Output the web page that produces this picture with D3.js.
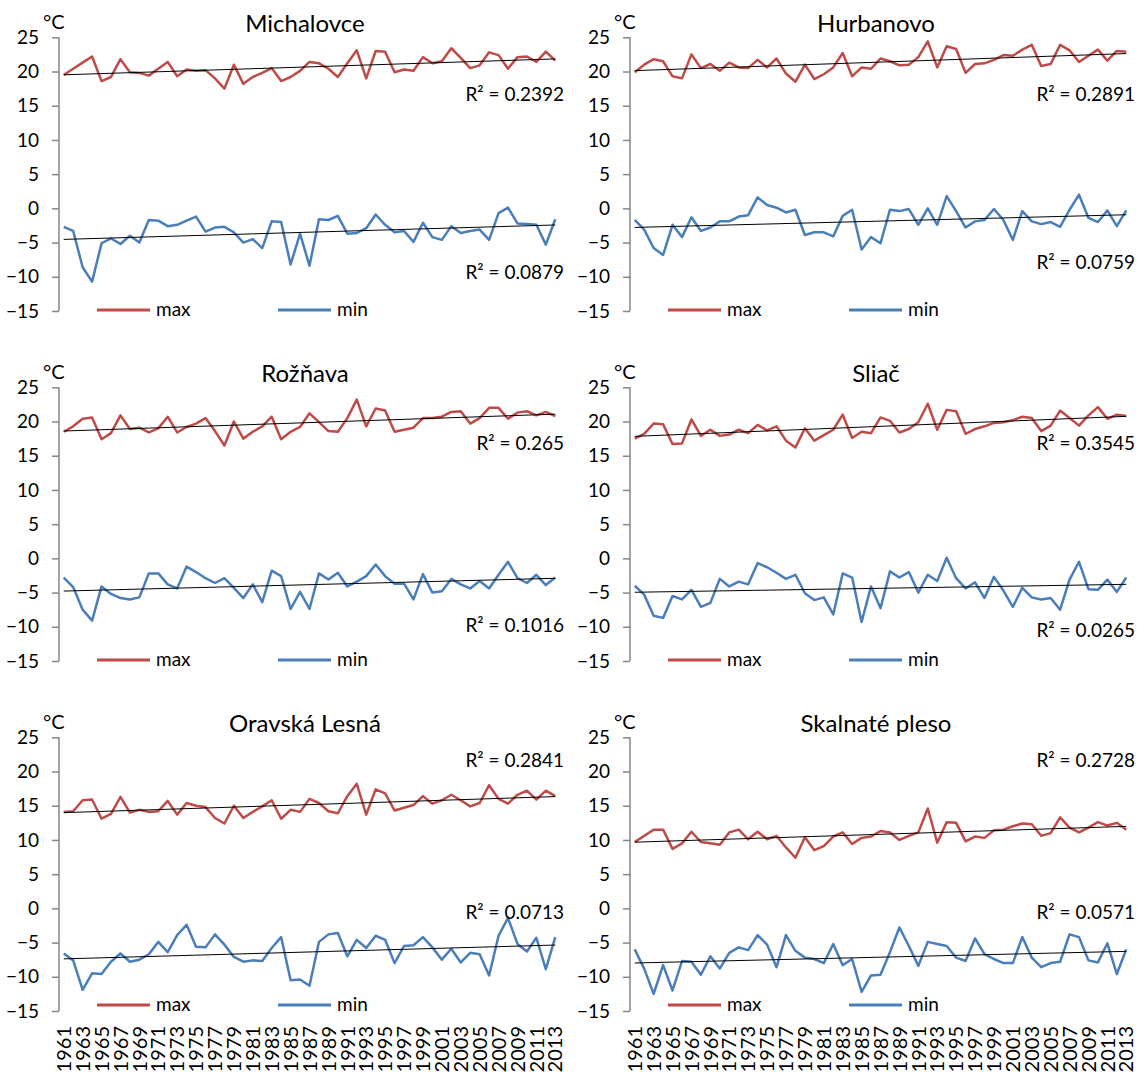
<!DOCTYPE html>
<html>
<head>
<meta charset="utf-8">
<script src="https://cdn.jsdelivr.net/npm/d3@7"></script>
<style>
  body { margin: 0; background: #fff; }
  svg { display: block; font-family: Lato, "Open Sans", sans-serif; }
</style>
</head>
<body>
<svg id="chart" width="1144" height="1079"></svg>
<script>
// categories
const years = [1961, 1962, 1963, 1964, 1965, 1966, 1967, 1968, 1969, 1970,
  1971, 1972, 1973, 1974, 1975, 1976, 1977, 1978, 1979, 1980,
  1981, 1982, 1983, 1984, 1985, 1986, 1987, 1988, 1989, 1990,
  1991, 1992, 1993, 1994, 1995, 1996, 1997, 1998, 1999, 2000,
  2001, 2002, 2003, 2004, 2005, 2006, 2007, 2008, 2009, 2010,
  2011, 2012, 2013];

const stations = ["Michalovce", "Hurbanovo", "Rožňava", "Sliač", "Oravská Lesná", "Skalnaté pleso"];
const seriesNames = ["max", "min"];
const yTicks = [25, 20, 15, 10, 5, 0, -5, -10, -15];

// R² labels as printed on the chart
const r2Max = ["0.2392", "0.2891", "0.265", "0.3545", "0.2841", "0.2728"];
const r2Min = ["0.0879", "0.0759", "0.1016", "0.0265", "0.0713", "0.0571"];

// series values (°C)
const michalovceMax = [19.5, 20.4, 21.3, 22.2, 18.6, 19.2, 21.8, 19.9, 19.8, 19.4,
  20.4, 21.4, 19.3, 20.3, 20.1, 20.2, 19.0, 17.5, 21.0, 18.2,
  19.2, 19.8, 20.5, 18.6, 19.2, 20.1, 21.4, 21.2, 20.4, 19.2,
  21.2, 23.1, 19.0, 23.0, 22.9, 19.9, 20.3, 20.1, 22.1, 21.2,
  21.5, 23.4, 22.0, 20.5, 20.9, 22.8, 22.4, 20.4, 22.1, 22.2,
  21.4, 22.9, 21.6];
const michalovceMin = [-2.7, -3.3, -8.6, -10.7, -5.1, -4.4, -5.2, -4.0, -5.0, -1.7,
  -1.8, -2.6, -2.4, -1.8, -1.2, -3.4, -2.8, -2.7, -3.5, -5.0,
  -4.5, -5.8, -1.9, -2.0, -8.2, -3.7, -8.4, -1.6, -1.7, -1.1,
  -3.7, -3.6, -2.9, -0.9, -2.4, -3.5, -3.3, -4.9, -2.1, -4.2,
  -4.6, -2.6, -3.6, -3.3, -3.1, -4.6, -0.7, 0.1, -2.2, -2.3,
  -2.4, -5.3, -1.6];

const hurbanovoMax = [19.9, 21.0, 21.8, 21.5, 19.3, 19.0, 22.5, 20.5, 21.1, 20.1,
  21.3, 20.6, 20.5, 21.7, 20.6, 21.9, 19.7, 18.5, 21.0, 18.9,
  19.6, 20.6, 22.7, 19.3, 20.6, 20.4, 21.9, 21.5, 20.9, 21.0,
  22.1, 24.4, 20.6, 23.7, 23.3, 19.8, 21.1, 21.2, 21.7, 22.4,
  22.3, 23.2, 23.9, 20.8, 21.1, 23.9, 23.1, 21.4, 22.3, 23.2,
  21.6, 23.0, 22.9];
const hurbanovoMin = [-1.7, -3.1, -5.8, -6.8, -2.4, -4.2, -1.3, -3.3, -2.8, -1.9,
  -1.9, -1.2, -1.0, 1.6, 0.5, 0.1, -0.6, -0.2, -3.9, -3.5,
  -3.5, -4.1, -1.1, -0.2, -6.0, -4.2, -5.1, -0.2, -0.4, -0.1,
  -2.4, 0.0, -2.4, 1.8, -0.4, -2.8, -1.9, -1.7, -0.1, -1.7,
  -4.6, -0.4, -1.9, -2.3, -2.0, -2.7, -0.2, 2.0, -1.4, -2.0,
  -0.3, -2.6, -0.3];

const roznavaMax = [18.5, 19.3, 20.4, 20.6, 17.4, 18.3, 20.9, 18.9, 19.1, 18.4,
  19.0, 20.7, 18.4, 19.2, 19.7, 20.5, 18.6, 16.5, 20.0, 17.5,
  18.5, 19.3, 20.7, 17.4, 18.5, 19.2, 21.2, 19.9, 18.6, 18.5,
  20.5, 23.2, 19.3, 21.9, 21.6, 18.5, 18.8, 19.1, 20.5, 20.5,
  20.7, 21.4, 21.5, 19.7, 20.5, 22.0, 22.0, 20.4, 21.3, 21.5,
  20.9, 21.4, 20.8];
const roznavaMin = [-2.8, -4.2, -7.5, -9.1, -4.1, -5.2, -5.8, -6.0, -5.7, -2.2,
  -2.2, -3.8, -4.4, -1.2, -2.0, -2.9, -3.6, -2.9, -4.3, -5.8,
  -3.8, -6.4, -1.8, -2.6, -7.4, -4.9, -7.4, -2.2, -3.1, -2.1,
  -4.1, -3.4, -2.6, -0.9, -2.6, -3.7, -3.7, -6.0, -2.3, -5.0,
  -4.8, -3.0, -3.8, -4.4, -3.3, -4.4, -2.4, -0.5, -2.9, -3.6,
  -2.4, -3.9, -2.8];

const sliacMax = [17.5, 18.2, 19.7, 19.6, 16.7, 16.8, 20.3, 17.9, 18.8, 17.9,
  18.1, 18.8, 18.3, 19.5, 18.7, 19.3, 17.2, 16.2, 19.0, 17.2,
  18.0, 18.8, 21.0, 17.6, 18.5, 18.3, 20.6, 20.1, 18.4, 18.9,
  19.9, 22.6, 18.8, 21.7, 21.5, 18.2, 18.9, 19.3, 19.8, 19.9,
  20.2, 20.7, 20.5, 18.6, 19.4, 21.6, 20.5, 19.4, 20.9, 22.1,
  20.4, 21.0, 20.8];
const sliacMin = [-4.0, -5.3, -8.4, -8.7, -5.5, -6.0, -4.6, -7.1, -6.5, -3.0,
  -4.1, -3.4, -3.8, -0.7, -1.3, -2.1, -3.0, -2.4, -5.1, -6.1,
  -5.7, -8.2, -2.2, -2.8, -9.3, -4.1, -7.3, -1.9, -2.8, -2.0,
  -5.0, -2.4, -3.3, 0.1, -2.9, -4.4, -3.5, -5.8, -2.7, -4.7,
  -7.1, -4.3, -5.7, -6.0, -5.8, -7.5, -3.1, -0.5, -4.5, -4.6,
  -3.1, -4.9, -2.8];

const oravskaMax = [14.1, 14.2, 15.8, 15.9, 13.1, 13.8, 16.3, 14.0, 14.4, 14.1,
  14.2, 15.7, 13.7, 15.4, 15.0, 14.8, 13.2, 12.4, 15.0, 13.2,
  14.1, 14.9, 15.8, 13.1, 14.4, 14.1, 16.0, 15.4, 14.2, 13.9,
  16.4, 18.2, 13.7, 17.4, 16.8, 14.3, 14.7, 15.1, 16.4, 15.3,
  15.8, 16.6, 15.8, 14.9, 15.4, 18.0, 16.0, 15.3, 16.6, 17.2,
  15.9, 17.2, 16.4];
const oravskaMin = [-6.6, -7.6, -11.9, -9.5, -9.6, -7.8, -6.6, -7.8, -7.5, -6.7,
  -4.9, -6.4, -3.9, -2.4, -5.6, -5.7, -3.8, -5.3, -7.1, -7.8,
  -7.6, -7.7, -5.8, -4.2, -10.5, -10.4, -11.3, -4.9, -3.8, -3.6,
  -7.0, -4.6, -5.8, -4.0, -4.6, -8.0, -5.5, -5.4, -4.2, -5.7,
  -7.5, -5.9, -7.9, -6.5, -6.7, -9.8, -4.0, -1.4, -5.2, -6.3,
  -4.3, -8.9, -4.2];

const skalnateMax = [9.7, 10.6, 11.5, 11.5, 8.7, 9.5, 11.2, 9.7, 9.5, 9.3,
  11.1, 11.5, 10.1, 11.2, 10.1, 10.6, 8.9, 7.4, 10.4, 8.5,
  9.1, 10.5, 11.1, 9.4, 10.3, 10.5, 11.3, 11.1, 10.0, 10.6,
  11.1, 14.6, 9.6, 12.6, 12.5, 9.8, 10.5, 10.3, 11.4, 11.5,
  12.0, 12.4, 12.3, 10.6, 11.0, 13.3, 11.8, 11.1, 11.8, 12.6,
  12.1, 12.5, 11.5];
const skalnateMin = [-6.0, -8.8, -12.5, -8.3, -12.0, -7.7, -7.8, -9.7, -7.0, -8.8,
  -6.5, -5.7, -6.1, -3.9, -5.3, -8.6, -3.9, -6.2, -7.2, -7.4,
  -8.0, -5.2, -8.3, -7.4, -12.2, -9.8, -9.7, -6.4, -2.8, -5.5,
  -8.4, -4.9, -5.2, -5.5, -7.2, -7.7, -4.4, -6.7, -7.4, -8.0,
  -8.0, -4.2, -7.2, -8.6, -8.0, -7.8, -3.8, -4.2, -7.6, -7.9,
  -5.1, -9.6, -6.0];

const maxSeries = [michalovceMax, hurbanovoMax, roznavaMax, sliacMax, oravskaMax, skalnateMax];
const minSeries = [michalovceMin, hurbanovoMin, roznavaMin, sliacMin, oravskaMin, skalnateMin];

// layout (pixels)
const colAxisX = [59, 630];
const rowTop = [0, 350, 700];
const plotW = 501;
const yTopOff = 37.3, yBotOff = 311;
const colors = { max: "#BE4B48", min: "#4A7EBB" };
const r2Pos = [
  { max: 94, min: 272 }, { max: 94, min: 262 },
  { max: 93, min: 275 }, { max: 93, min: 280 },
  { max: 60, min: 212 }, { max: 60, min: 212 }
];

const svg = d3.select("#chart");

// least squares fit over category index
function linearFit(vals) {
  const xs = vals.map((v, i) => i + 1);
  const mx = d3.mean(xs), my = d3.mean(vals);
  let sxy = 0, sxx = 0;
  xs.forEach((x, i) => { sxy += (x - mx) * (vals[i] - my); sxx += (x - mx) * (x - mx); });
  const b = sxy / sxx;
  const a = my - b * mx;
  return i => a + b * (i + 1);
}

stations.forEach((name, p) => {
  const col = p % 2, row = Math.floor(p / 2);
  const ax = colAxisX[col];
  const top = rowTop[row];

  const x = d3.scalePoint().domain(years).range([ax, ax + plotW]).padding(0.5);
  const y = d3.scaleLinear().domain([-15, 25]).range([top + yBotOff, top + yTopOff]);

  const g = svg.append("g");

  // y axis
  const yAxis = d3.axisLeft(y).tickValues(yTicks).tickSize(7).tickPadding(13);
  const ga = g.append("g").attr("transform", `translate(${ax},0)`).call(yAxis);
  ga.select(".domain").attr("stroke", "#868686").attr("stroke-width", 1.5).attr("d", `M0,${y(-15)}V${y(25)}`);
  ga.selectAll(".tick line").attr("stroke", "#868686").attr("stroke-width", 1.5);
  ga.selectAll(".tick text").attr("fill", "#000").style("font-size", "19px").style("font-family", "Lato, sans-serif");

  // unit
  g.append("text").attr("x", ax - 16).attr("y", top + 29)
    .style("font-size", "20px").text("°C");

  // title
  g.append("text").attr("x", ax + 246).attr("y", top + 32)
    .attr("text-anchor", "middle").style("font-size", "24px").text(name);

  const seriesData = [maxSeries[p], minSeries[p]];
  const line = d3.line().x((d, i) => x(years[i])).y(d => y(d));

  seriesData.forEach((vals, s) => {
    g.append("path").datum(vals)
      .attr("fill", "none")
      .attr("stroke", colors[seriesNames[s]])
      .attr("stroke-width", 2.5)
      .attr("stroke-linejoin", "round")
      .attr("d", line);
  });

  // trendlines
  seriesData.forEach(vals => {
    const f = linearFit(vals);
    g.append("line")
      .attr("x1", x(years[0])).attr("y1", y(f(0)))
      .attr("x2", x(years[years.length - 1])).attr("y2", y(f(years.length - 1)))
      .attr("stroke", "#000").attr("stroke-width", 1);
  });

  // R² labels
  [["max", r2Max[p]], ["min", r2Min[p]]].forEach(([k, v]) => {
    g.append("text")
      .attr("x", ax + 505).attr("y", top + r2Pos[p][k] + 7)
      .attr("text-anchor", "end")
      .style("font-size", "19px")
      .text(`R² = ${v}`);
  });

  // legend
  const ly = top + (row === 2 ? 305 : 310);
  const legendX = [ax + 38, ax + 219];
  seriesNames.forEach((s, i) => {
    g.append("line")
      .attr("x1", legendX[i]).attr("x2", legendX[i] + 53)
      .attr("y1", ly).attr("y2", ly)
      .attr("stroke", colors[s]).attr("stroke-width", 3);
    g.append("text")
      .attr("x", legendX[i] + 59).attr("y", ly + 6)
      .style("font-size", "19px").text(s);
  });

  // year labels on the bottom row only
  if (row === 2) {
    const labelYears = years.filter((yr, i) => i % 2 === 0);
    labelYears.forEach(yr => {
      g.append("text")
        .attr("transform", `translate(${x(yr)},${top + 326}) rotate(-90)`)
        .attr("text-anchor", "end")
        .attr("dy", "0.36em")
        .style("font-size", "20px")
        .text(yr);
    });
  }
});
</script>
</body>
</html>
